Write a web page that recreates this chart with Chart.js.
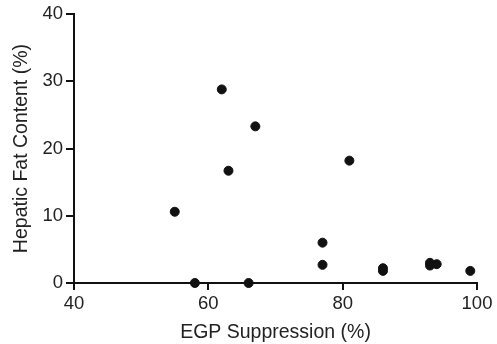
<!DOCTYPE html>
<html>
<head>
<meta charset="utf-8">
<script src="https://cdn.jsdelivr.net/npm/chart.js@4/dist/chart.umd.min.js"></script>
<style>
  html, body { margin: 0; padding: 0; background: #fff; }
  canvas { display: block; }
</style>
</head>
<body>
<canvas id="chart" width="497" height="344"></canvas>
<script>
// EGP suppression (%) vs hepatic fat content (%)
const egpSuppression = [55, 58, 62, 63, 66, 67, 77, 77, 81, 86, 86, 93, 93, 94, 99];
const hepaticFat = [10.6, 0, 28.8, 16.7, 0, 23.3, 6.0, 2.7, 18.2, 2.2, 1.8, 3.0, 2.6, 2.8, 1.8];
const xTicks = [40, 60, 80, 100];
const yTicks = [0, 10, 20, 30, 40];

const points = egpSuppression.map((x, i) => ({ x: x, y: hepaticFat[i] }));

const tickFont = { family: 'Liberation Sans, Arial, sans-serif', size: 18.5 };
const titleFont = { family: 'Liberation Sans, Arial, sans-serif', size: 19.5 };

new Chart(document.getElementById('chart').getContext('2d'), {
  type: 'scatter',
  data: {
    datasets: [{
      data: points,
      backgroundColor: '#111',
      borderColor: '#111',
      pointRadius: 4.5,
      pointHoverRadius: 4.5,
      clip: false
    }]
  },
  options: {
    responsive: false,
    animation: false,
    layout: { padding: { top: 14, right: 20, left: 0, bottom: 0 } },
    plugins: { legend: { display: false }, tooltip: { enabled: false } },
    scales: {
      x: {
        type: 'linear',
        min: 40, max: 100,
        afterBuildTicks: (s) => { s.ticks = xTicks.map(v => ({ value: v })); },
        afterFit: (s) => { s.height = 61; },
        border: { color: '#111', width: 2 },
        grid: { drawOnChartArea: false, drawTicks: true, tickLength: 7, color: '#111', lineWidth: 2 },
        ticks: { color: '#222', font: tickFont, padding: 3, maxRotation: 0 },
        title: { display: true, text: 'EGP Suppression (%)', color: '#222', font: titleFont, padding: { top: 2, bottom: 0 } }
      },
      y: {
        type: 'linear',
        min: 0, max: 40,
        afterBuildTicks: (s) => { s.ticks = yTicks.map(v => ({ value: v })); },
        afterFit: (s) => { s.width = 74; },
        border: { color: '#111', width: 2 },
        grid: { drawOnChartArea: false, drawTicks: true, tickLength: 8, color: '#111', lineWidth: 2 },
        ticks: { color: '#222', font: tickFont, padding: 3 },
        title: { display: true, text: 'Hepatic Fat Content (%)', color: '#222', font: titleFont, padding: { top: 10, bottom: 0 } }
      }
    }
  }
});
</script>
</body>
</html>
